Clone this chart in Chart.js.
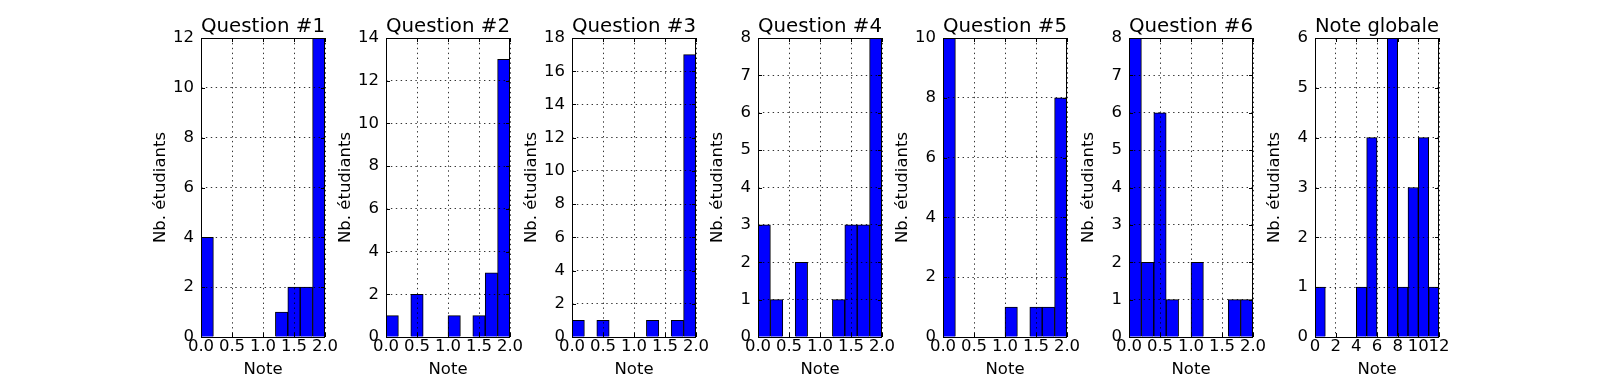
<!DOCTYPE html>
<html>
<head>
<meta charset="utf-8">
<script src="https://cdn.jsdelivr.net/npm/chart.js@4.4.0/dist/chart.umd.min.js"></script>
<style>
  html, body { margin: 0; padding: 0; background: #fff; overflow: hidden; }
  #wrap { position: relative; width: 1597px; height: 375px; }
  #wrap canvas { position: absolute; top: 0; }
</style>
</head>
<body>
<div id="wrap"></div>
<script>
// histogram data (10 bins of 0.2 on [0,2] for questions, 12 bins of 1 for the total)
const titles = ['Question #1', 'Question #2', 'Question #3', 'Question #4', 'Question #5', 'Question #6', 'Note globale'];
const binsQuestion = [0.1, 0.3, 0.5, 0.7, 0.9, 1.1, 1.3, 1.5, 1.7, 1.9];
const binsGlobale = [0.5, 1.5, 2.5, 3.5, 4.5, 5.5, 6.5, 7.5, 8.5, 9.5, 10.5, 11.5];
const q1 = [4, 0, 0, 0, 0, 0, 1, 2, 2, 12];
const q2 = [1, 0, 2, 0, 0, 1, 0, 1, 3, 13];
const q3 = [1, 0, 1, 0, 0, 0, 1, 0, 1, 17];
const q4 = [3, 1, 0, 2, 0, 0, 1, 3, 3, 8];
const q5 = [10, 0, 0, 0, 0, 1, 0, 1, 1, 8];
const q6 = [8, 2, 6, 1, 0, 2, 0, 0, 1, 1];
const globale = [1, 0, 0, 0, 1, 4, 0, 6, 1, 3, 4, 1];
const yMaxes = [12, 14, 18, 8, 10, 8, 6];
const ySteps = [2, 2, 2, 1, 2, 1, 1];
const xLabelsQuestion = ['0.0', '0.5', '1.0', '1.5', '2.0'];
const xLabelsGlobale = ['0', '2', '4', '6', '8', '10', '12'];

Chart.defaults.font.family = 'DejaVu Sans';
Chart.defaults.color = '#000';

// matplotlib style box with inward ticks on the four sides
const frame = {
  id: 'frame',
  afterDraw(chart) {
    const {ctx, chartArea: a, scales} = chart;
    ctx.save();
    ctx.strokeStyle = '#000';
    ctx.lineWidth = 1;
    ctx.beginPath();
    scales.x.ticks.forEach(t => {
      const p = Math.round(scales.x.getPixelForValue(t.value)) + 0.5;
      ctx.moveTo(p, a.bottom); ctx.lineTo(p, a.bottom - 4);
      ctx.moveTo(p, a.top); ctx.lineTo(p, a.top + 4);
    });
    scales.y.ticks.forEach(t => {
      const p = Math.round(scales.y.getPixelForValue(t.value)) + 0.5;
      ctx.moveTo(a.left, p); ctx.lineTo(a.left + 4, p);
      ctx.moveTo(a.right, p); ctx.lineTo(a.right - 4, p);
    });
    ctx.stroke();
    ctx.strokeRect(a.left + 0.5, a.top + 0.5, a.right - a.left - 1, a.bottom - a.top);
    ctx.restore();
  }
};

const series = [q1, q2, q3, q4, q5, q6, globale];
const wrap = document.getElementById('wrap');

series.forEach((counts, i) => {
  const isGlobal = i === 6;
  const bins = isGlobal ? binsGlobale : binsQuestion;
  const xLabels = isGlobal ? xLabelsGlobale : xLabelsQuestion;
  const plotLeft = Math.round(200.6 + i * 185.68);
  const canvas = document.createElement('canvas');
  canvas.width = 209;
  canvas.height = 375;
  canvas.style.left = (plotLeft - 70) + 'px';
  wrap.appendChild(canvas);

  new Chart(canvas, {
    type: 'bar',
    data: {
      datasets: [{
        data: bins.map((b, k) => ({x: b, y: counts[k]})),
        backgroundColor: '#0000ff',
        borderColor: '#000',
        borderWidth: 1,
        borderSkipped: 'start',
        barPercentage: 1,
        categoryPercentage: 1
      }]
    },
    options: {
      responsive: false,
      animation: false,
      layout: { padding: { right: 15 } },
      plugins: {
        legend: { display: false },
        tooltip: { enabled: false },
        title: {
          display: true,
          text: titles[i],
          fullSize: false,
          color: '#000',
          font: { size: 20, weight: 'normal', lineHeight: 1.1 },
          padding: { top: 16, bottom: 0 }
        }
      },
      scales: {
        x: {
          type: 'linear',
          min: 0,
          max: isGlobal ? 12 : 2,
          offset: false,
          afterFit: s => { s.height = 38; },
          ticks: {
            stepSize: isGlobal ? 2 : 0.5,
            padding: 0,
            maxRotation: 0,
            autoSkip: false,
            color: '#000',
            font: { size: 16.5 },
            callback: (v, k) => xLabels[k]
          },
          grid: { offset: false, drawTicks: false, color: '#000', lineWidth: 0.8, z: 1 },
          border: { display: false, dash: [1.4, 3.5] },
          title: { display: true, text: 'Note', color: '#000', font: { size: 16.5 }, padding: { top: 0, bottom: -5 } }
        },
        y: {
          min: 0,
          max: yMaxes[i],
          afterFit: s => { s.width = 70; },
          ticks: { stepSize: ySteps[i], padding: 7, color: '#000', font: { size: 16.5 } },
          grid: { drawTicks: false, color: '#000', lineWidth: 0.8, z: 1 },
          border: { display: false, dash: [1.4, 3.5] },
          title: { display: true, text: 'Nb. étudiants', color: '#000', font: { size: 16.5 }, padding: { top: 20, bottom: 0 } }
        }
      }
    },
    plugins: [frame]
  });
});
</script>
</body>
</html>
